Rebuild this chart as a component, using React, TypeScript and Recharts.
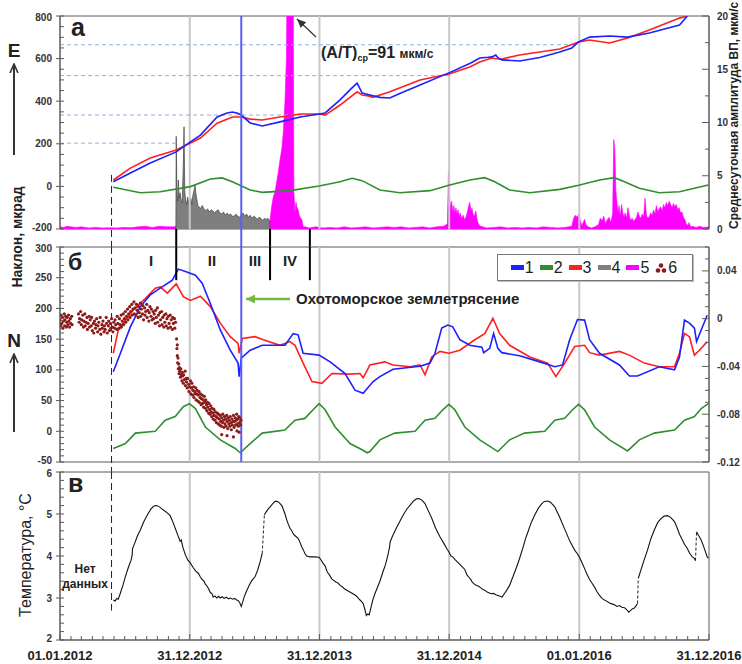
import React from 'react';
import {
  ComposedChart,
  Line,
  Area,
  Scatter,
  XAxis,
  YAxis,
  ReferenceLine,
  ReferenceArea,
} from 'recharts';

// x = days since 01.01.2012
type Pt = [number, number | null];

const FONT = 'Arial, "Liberation Sans", sans-serif';
const AXIS = '#5a5a5a';
const GRID = '#c8c8c8';
const BLUE = '#1f1fff';
const RED = '#ff1f1f';
const GREEN = '#2f8f2f';
const MAGENTA = '#ff00ff';
const GRAY = '#7f7f7f';
const DOT = '#8b1a1a';

const X_MAX = 1826;
const X_LABELS = [
  { d: 0, label: '01.01.2012' },
  { d: 365, label: '31.12.2012' },
  { d: 730, label: '31.12.2013' },
  { d: 1095, label: '31.12.2014' },
  { d: 1461, label: '01.01.2016' },
  { d: 1826, label: '31.12.2016' },
];
const YEAR_LINES = [365, 730, 1095, 1461];
const DATA_START = 145;
const QUAKE = 510;
const STAGE_BOUNDS = [327, 591, 703];

// panel a (E component)
const E_BLUE: Pt[] = [
  [150, 22], [198, 63], [254, 110], [327, 162], [367, 209], [395, 241], [442, 326], [470, 345], [485, 349],
  [500, 343], [510, 335], [535, 298], [569, 284], [619, 303], [676, 326], [729, 340], [746, 345], [788, 406],
  [820, 460], [836, 485], [850, 438], [872, 429], [900, 418], [928, 415], [956, 436], [1013, 476], [1094, 533],
  [1153, 577], [1181, 603], [1205, 606], [1215, 608], [1226, 617], [1232, 604], [1243, 594], [1293, 589],
  [1350, 605], [1406, 631], [1440, 650], [1459, 678], [1490, 701], [1546, 706], [1597, 701], [1658, 720],
  [1743, 758], [1765, 800],
];
const E_RED: Pt[] = [
  [150, 30], [198, 86], [254, 133], [327, 171], [367, 204], [395, 227], [442, 297], [485, 326], [510, 326],
  [535, 316], [569, 312], [619, 326], [676, 340], [729, 340], [746, 335], [788, 382], [836, 444], [850, 429],
  [867, 425], [881, 418], [928, 444], [1013, 500], [1094, 528], [1153, 561], [1181, 584], [1215, 603],
  [1232, 598], [1243, 598], [1293, 617], [1406, 645], [1459, 678], [1490, 687], [1546, 673], [1597, 697],
  [1658, 734], [1743, 790], [1765, 800],
];
const E_GREEN: Pt[] = [
  [150, -4], [226, -30], [282, -25], [367, -1], [423, 35], [456, 40], [485, 22], [535, -17], [569, -28],
  [647, -20], [729, 2], [788, 22], [822, 38], [850, 27], [900, -17], [956, -30], [1041, -20], [1094, 5],
  [1153, 30], [1195, 41], [1223, 22], [1265, -17], [1322, -30], [1406, -14], [1459, 5], [1518, 30],
  [1560, 41], [1588, 22], [1630, -9], [1686, -30], [1743, -25], [1824, 7],
];
const E_GRAY: Pt[] = [
  [326, 0], [327, 8.7], [329, 3.2], [331, 2.6], [333, 4.6], [335, 2.9], [338, 3.4], [341, 2.7], [344, 2.4],
  [347, 6.2], [349, 9.6], [351, 3.6], [353, 2.8], [356, 2.3], [359, 3.0], [362, 2.5], [365, 2.2], [368, 2.9],
  [371, 2.3], [374, 3.2], [377, 3.6], [380, 4.1], [382, 3.4], [385, 2.8], [388, 2.2], [391, 2.1], [395, 1.9],
  [400, 2.2], [405, 1.9], [410, 1.7], [415, 1.9], [420, 1.6], [425, 1.8], [430, 1.7], [435, 1.5], [440, 1.7],
  [445, 1.8], [450, 1.5], [455, 1.4], [460, 1.6], [465, 1.3], [470, 1.5], [475, 1.3], [480, 1.4], [485, 1.2],
  [490, 1.2], [495, 1.4], [500, 1.2], [505, 1.1], [510, 1.3], [515, 1.5], [520, 1.2], [525, 1.4], [530, 1.1],
  [535, 1.3], [540, 1.0], [545, 1.2], [550, 1.1], [555, 0.9], [560, 1.1], [565, 1.0], [570, 0.8], [575, 1.0],
  [580, 0.9], [585, 1.0], [590, 0.8], [591, 0],
];
const E_MAGENTA: Pt[] = [
  [0, 0.2], [10, 0.15], [20, 0.25], [30, 0.2], [45, 0.15], [60, 0.2], [80, 0.1], [100, 0.15], [120, 0.1],
  [140, 0.12], [160, 0.1], [180, 0.15], [200, 0.12], [220, 0.2], [240, 0.25], [260, 0.15], [280, 0.25],
  [300, 0.2], [320, 0.2], [340, 0.25], [360, 0.15], [400, 0.2], [440, 0.2], [480, 0.25], [520, 0.15],
  [560, 0.25], [585, 0.4], [591, 0.8], [595, 2.0], [600, 3.0], [605, 3.5], [610, 4.5], [614, 5.3], [619, 6.5],
  [624, 7.5], [628, 9.0], [633, 12], [637, 16], [639, 24], [642, 26], [647, 26], [652, 25], [656, 24],
  [658, 3.5], [661, 1.5], [664, 2.5], [667, 2.0], [670, 1.8], [674, 1.2], [678, 1.0], [681, 0.8], [684, 0.2],
  [690, 0.2], [700, 0.1], [720, 0.2], [740, 0.1], [760, 0.15], [780, 0.1], [800, 0.2], [820, 0.1],
  [840, 0.15], [860, 0.2], [880, 0.1], [900, 0.15], [920, 0.2], [940, 0.15], [960, 0.2], [980, 0.1],
  [1000, 0.15], [1020, 0.2], [1040, 0.1], [1060, 0.2], [1080, 0.25], [1090, 0.5], [1093, 5.4], [1096, 3.0],
  [1099, 2.0], [1102, 2.6], [1105, 1.6], [1108, 2.2], [1111, 1.5], [1114, 2.0], [1117, 1.4], [1120, 1.8],
  [1123, 1.2], [1126, 1.5], [1130, 1.0], [1134, 1.3], [1138, 0.9], [1142, 1.1], [1146, 1.6], [1150, 2.2],
  [1153, 2.5], [1156, 1.7], [1159, 2.0], [1162, 1.4], [1166, 1.2], [1170, 1.7], [1173, 1.0], [1176, 0.6],
  [1180, 0.3], [1200, 0.1], [1220, 0.15], [1240, 0.2], [1260, 0.1], [1280, 0.15], [1300, 0.1], [1320, 0.15],
  [1340, 0.1], [1360, 0.2], [1380, 0.15], [1400, 0.1], [1420, 0.15], [1440, 0.25], [1445, 1.0], [1450, 1.3],
  [1455, 1.1], [1460, 1.4], [1464, 0.8], [1468, 0.3], [1472, 0.6], [1476, 0.9], [1480, 0.4], [1486, 0.2],
  [1495, 0.1], [1505, 0.2], [1515, 0.4], [1520, 1.0], [1525, 0.8], [1530, 1.2], [1535, 0.5], [1540, 0.9],
  [1545, 1.1], [1550, 0.6], [1555, 1.5], [1558, 8.4], [1561, 7.5], [1564, 3.5], [1567, 2.5], [1570, 1.5],
  [1573, 2.2], [1576, 1.2], [1580, 2.3], [1584, 1.4], [1587, 1.1], [1590, 1.5], [1594, 1.0], [1598, 2.0],
  [1602, 1.2], [1606, 0.8], [1610, 1.0], [1614, 0.7], [1618, 0.9], [1622, 1.1], [1626, 1.6], [1630, 1.2],
  [1634, 1.0], [1638, 1.4], [1642, 1.1], [1646, 2.9], [1650, 1.3], [1654, 1.0], [1658, 1.2], [1662, 1.5],
  [1666, 1.3], [1670, 1.8], [1674, 1.4], [1678, 2.2], [1682, 1.6], [1686, 1.9], [1690, 2.1], [1694, 1.7],
  [1698, 2.3], [1702, 2.0], [1706, 2.5], [1710, 2.2], [1714, 2.6], [1718, 2.3], [1722, 2.0], [1726, 2.4],
  [1730, 2.1], [1734, 2.3], [1738, 1.8], [1742, 2.0], [1746, 1.5], [1750, 1.6], [1754, 1.1], [1758, 0.9],
  [1762, 0.5], [1766, 0.3], [1770, 0.6], [1774, 0.2], [1780, 0.25], [1790, 0.15], [1800, 0.25], [1810, 0.15],
  [1826, 0.2],
];
// dashed level marks on panel a
const E_LEVELS = [
  { y: 203, to: 327 },
  { y: 335, to: 729 },
  { y: 520, to: 1094 },
  { y: 665, to: 1459 },
];

// panel б (N component)
const N_BLUE: Pt[] = [
  [150, 97], [170, 127], [198, 170], [226, 203], [254, 222], [282, 233], [316, 246], [333, 264], [353, 260],
  [381, 254], [400, 241], [423, 208], [451, 165], [479, 132], [501, 111], [504, 89], [510, 119], [535, 132],
  [569, 140], [605, 140], [633, 140], [656, 159], [670, 157], [684, 127], [729, 124], [760, 113], [802, 94],
  [830, 67], [853, 62], [881, 81], [900, 89], [937, 101], [1013, 106], [1041, 111], [1055, 127], [1074, 168],
  [1091, 173], [1105, 170], [1125, 149], [1153, 140], [1187, 137], [1192, 128], [1209, 135], [1220, 159],
  [1232, 135], [1243, 128], [1293, 123], [1350, 113], [1392, 105], [1414, 108], [1434, 149], [1456, 182],
  [1476, 181], [1490, 149], [1518, 127], [1574, 108], [1602, 90], [1625, 90], [1686, 105], [1729, 100],
  [1743, 121], [1757, 181], [1771, 176], [1785, 168], [1791, 146], [1804, 165], [1821, 189],
];
const N_RED: Pt[] = [
  [150, 127], [164, 165], [184, 181], [206, 197], [240, 216], [268, 233], [282, 235], [302, 225], [327, 240],
  [347, 219], [367, 213], [395, 220], [423, 203], [451, 176], [479, 154], [501, 143], [504, 127], [513, 151],
  [549, 154], [572, 149], [619, 140], [647, 146], [661, 140], [684, 111], [709, 81], [737, 78], [765, 94],
  [816, 93], [844, 94], [853, 87], [872, 108], [914, 113], [937, 108], [985, 105], [1013, 108], [1027, 92],
  [1046, 121], [1069, 130], [1094, 127], [1125, 132], [1167, 149], [1195, 159], [1218, 184], [1237, 159],
  [1265, 140], [1322, 121], [1372, 111], [1395, 89], [1420, 111], [1448, 138], [1476, 140], [1490, 128],
  [1518, 124], [1574, 130], [1602, 124], [1644, 111], [1686, 105], [1729, 105], [1743, 127], [1757, 159],
  [1771, 154], [1785, 124], [1799, 132], [1821, 146],
];
const N_GREEN: Pt[] = [
  [150, -28], [184, -20], [212, -3], [268, 0], [296, 18], [324, 24], [347, 40], [364, 45], [381, 37],
  [409, 7], [451, -14], [493, -28], [507, -35], [535, -20], [569, -3], [633, 2], [661, 18], [689, 21],
  [712, 35], [729, 45], [746, 35], [774, 7], [816, -20], [850, -30], [864, -35], [872, -33], [900, -14],
  [942, -3], [999, 0], [1027, 18], [1055, 21], [1077, 35], [1094, 44], [1111, 35], [1139, 7], [1181, -14],
  [1232, -33], [1265, -14], [1307, -3], [1364, 0], [1392, 18], [1420, 21], [1442, 35], [1459, 44],
  [1476, 35], [1504, 7], [1546, -14], [1597, -32], [1630, -14], [1672, -3], [1729, 2], [1757, 18],
  [1785, 24], [1804, 37], [1824, 45],
];
// series 6, right axis
const N_DOTS: Pt[] = [
  [0, -0.001], [2, -0.006], [3, 0.003], [5, -0.004], [7, 0.001], [8, -0.008], [10, -0.002], [12, 0.004],
  [13, -0.006], [14, -0.001], [16, 0.002], [18, -0.007], [19, -0.003], [20, 0.001], [22, -0.005], [24, 0.003],
  [25, -0.002], [27, -0.007], [29, 0.0], [30, -0.004], [33, 0.002], [34, -0.005],
  [52, 0.004], [54, -0.003], [55, 0.0], [58, 0.006], [60, -0.005], [61, -0.001], [64, 0.003], [66, -0.007],
  [67, -0.002], [70, 0.004], [71, -0.006], [73, -0.003], [76, 0.001], [77, -0.009], [79, -0.004], [82, 0.002],
  [83, -0.007], [85, -0.001], [88, -0.006], [89, 0.001], [91, -0.01], [94, -0.004], [95, -0.012],
  [97, -0.002], [100, -0.008], [101, -0.005], [103, 0.0], [106, -0.011], [107, -0.006], [109, -0.003],
  [112, -0.009], [113, 0.001], [115, -0.013], [118, -0.005], [119, -0.008], [121, -0.002], [124, -0.011],
  [125, -0.006], [127, -0.009], [130, 0.001], [131, -0.004], [133, -0.012], [136, -0.006], [137, -0.002],
  [139, -0.01], [142, -0.004], [143, -0.008], [145, 0.0], [148, -0.007], [149, -0.011], [151, -0.003],
  [154, -0.008], [155, -0.001], [157, -0.005], [160, -0.009], [161, 0.002], [163, -0.004], [166, -0.008],
  [167, 0.0], [169, -0.005], [172, 0.003], [173, -0.007], [175, -0.002], [178, 0.004], [179, -0.005],
  [181, 0.0], [184, 0.006], [185, -0.003], [187, 0.002], [190, 0.008], [191, -0.001], [193, 0.004],
  [196, 0.01], [197, 0.001], [199, 0.006], [202, 0.012], [203, 0.003], [205, 0.008], [208, 0.014],
  [209, 0.004], [211, 0.009], [214, 0.003], [215, 0.012], [217, 0.007], [220, 0.001], [221, 0.01],
  [223, 0.005], [226, 0.013], [227, 0.002], [229, 0.008], [232, 0.004], [233, 0.011], [235, -0.001],
  [238, 0.009], [239, 0.003], [241, 0.006], [244, 0.012], [245, 0.001], [247, 0.007], [250, -0.002],
  [251, 0.005], [253, 0.01], [256, 0.002], [257, 0.008], [259, -0.001], [262, 0.006], [263, 0.0],
  [265, 0.004], [268, -0.004], [269, 0.007], [271, 0.001], [274, 0.009], [275, -0.003], [277, 0.003],
  [280, -0.006], [281, 0.005], [283, -0.001], [286, 0.006], [287, -0.005], [289, 0.001], [292, -0.007],
  [293, 0.003], [295, -0.003], [298, 0.004], [299, -0.006], [301, 0.0], [304, -0.008], [305, 0.002],
  [307, -0.004], [310, 0.003], [311, -0.007], [313, -0.001], [316, -0.009], [317, 0.001], [319, -0.004],
  [322, 0.0], [323, -0.008], [325, -0.003],
  [328, -0.017], [329, -0.025], [330, -0.031], [330, -0.022], [331, -0.037], [332, -0.033], [333, -0.042],
  [334, -0.038], [335, -0.046], [336, -0.041], [337, -0.044], [339, -0.049], [340, -0.042], [341, -0.047],
  [343, -0.052], [344, -0.045], [345, -0.048], [347, -0.054], [348, -0.047], [350, -0.051], [352, -0.044],
  [353, -0.056], [355, -0.05], [356, -0.053], [358, -0.058], [359, -0.05], [362, -0.055], [363, -0.061],
  [365, -0.057], [367, -0.052], [368, -0.063], [370, -0.058], [371, -0.054], [373, -0.064], [374, -0.06],
  [376, -0.057], [377, -0.066], [379, -0.061], [380, -0.063], [382, -0.058], [383, -0.068], [385, -0.063],
  [386, -0.06], [388, -0.069], [389, -0.064], [391, -0.061], [392, -0.07], [394, -0.066], [395, -0.063],
  [397, -0.072], [398, -0.067], [400, -0.064], [401, -0.071], [403, -0.068], [404, -0.074], [406, -0.065],
  [407, -0.07], [409, -0.075], [410, -0.068], [412, -0.072], [413, -0.077], [415, -0.07], [416, -0.074],
  [418, -0.079], [419, -0.071], [421, -0.076], [422, -0.08], [424, -0.073], [425, -0.078], [427, -0.082],
  [428, -0.075], [430, -0.079], [431, -0.084], [433, -0.076], [434, -0.081], [436, -0.085], [437, -0.078],
  [439, -0.082], [440, -0.087], [442, -0.079], [443, -0.083], [445, -0.088], [446, -0.08], [448, -0.084],
  [449, -0.089], [451, -0.081], [452, -0.086], [454, -0.09], [455, -0.083], [457, -0.087], [458, -0.08],
  [460, -0.085], [461, -0.091], [463, -0.082], [464, -0.088], [466, -0.084], [467, -0.09], [469, -0.081],
  [470, -0.086], [472, -0.092], [473, -0.083], [475, -0.088], [476, -0.085], [478, -0.09], [479, -0.082],
  [481, -0.087], [482, -0.093], [484, -0.084], [485, -0.089], [487, -0.086], [488, -0.081], [490, -0.091],
  [491, -0.086], [493, -0.083], [494, -0.089], [496, -0.085], [497, -0.08], [499, -0.088], [500, -0.084],
  [502, -0.09], [503, -0.082], [505, -0.087], [506, -0.083], [508, -0.089], [509, -0.085],
  [455, -0.097], [470, -0.098], [488, -0.099], [504, -0.095], [498, -0.094],
];

// panel в (temperature)
const TEMP: Pt[] = [
  [150, 2.95], [155, 2.93], [160, 2.99], [164, 2.97], [170, 3.12], [177, 3.3], [184, 3.51], [192, 3.72],
  [200, 3.9], [203, 4.02], [204, 4.17], [210, 4.3], [218, 4.48], [226, 4.62], [236, 4.82], [246, 4.98],
  [256, 5.12], [264, 5.19], [272, 5.2], [280, 5.17], [290, 5.1], [300, 5.04], [310, 4.96], [318, 4.8],
  [326, 4.62], [333, 4.46], [338, 4.35], [341, 4.38], [346, 4.2], [353, 4.02], [360, 3.9], [367, 3.83],
  [375, 3.72], [382, 3.64], [389, 3.59], [395, 3.5], [400, 3.44], [405, 3.4], [409, 3.33], [414, 3.28],
  [418, 3.22], [423, 3.13], [428, 3.1], [431, 3.02], [436, 3.05], [441, 3.0], [446, 3.04], [451, 3.0],
  [456, 3.03], [462, 2.99], [468, 3.02], [474, 2.98], [479, 3.0], [486, 2.97], [492, 2.99], [497, 2.95],
  [501, 2.94], [506, 2.88], [510, 2.8], [514, 2.9], [518, 3.02], [524, 3.15], [532, 3.3], [540, 3.42],
  [549, 3.51], [556, 3.66], [563, 3.86], [569, 4.06], [572, null], [575, 4.98], [580, 5.05], [586, 5.12],
  [591, 5.17], [598, 5.24], [605, 5.3], [611, 5.3], [618, 5.26], [624, 5.2], [628, 5.12], [633, 5.0],
  [638, 4.86], [643, 4.74], [647, 4.66], [652, 4.6], [657, 4.52], [663, 4.47], [670, 4.42], [675, 4.33],
  [680, 4.22], [685, 4.14], [689, 4.06], [694, 4.0], [703, 3.98], [715, 3.98], [729, 3.97], [735, 3.9],
  [740, 3.83], [746, 3.76], [752, 3.62], [758, 3.55], [765, 3.45], [770, 3.42], [776, 3.38], [782, 3.36],
  [788, 3.3], [794, 3.27], [800, 3.22], [806, 3.19], [812, 3.16], [818, 3.13], [824, 3.1], [830, 3.07],
  [836, 3.03], [842, 2.97], [848, 2.92], [853, 2.87], [858, 2.72], [862, 2.58], [866, 2.62], [870, 2.6],
  [874, 2.74], [880, 2.95], [886, 3.1], [893, 3.25], [900, 3.4], [909, 3.63], [916, 3.8], [922, 4.0],
  [927, 4.2], [929, 4.34], [936, 4.48], [946, 4.66], [956, 4.82], [966, 4.98], [976, 5.12], [985, 5.21],
  [995, 5.31], [1003, 5.36], [1010, 5.37], [1018, 5.33], [1027, 5.25], [1036, 5.08], [1046, 4.9],
  [1057, 4.66], [1069, 4.46], [1080, 4.3], [1090, 4.15], [1094, 4.1], [1100, 4.0], [1105, 3.98],
  [1111, 3.92], [1118, 3.86], [1125, 3.8], [1132, 3.74], [1139, 3.68], [1145, 3.55], [1150, 3.5],
  [1155, 3.45], [1160, 3.38], [1166, 3.33], [1172, 3.3], [1178, 3.28], [1184, 3.24], [1190, 3.2],
  [1196, 3.18], [1202, 3.14], [1208, 3.12], [1214, 3.1], [1220, 3.11], [1226, 3.08], [1232, 3.06],
  [1238, 3.04], [1244, 3.02], [1250, 3.1], [1258, 3.2], [1265, 3.3], [1274, 3.5], [1284, 3.72], [1293, 3.94],
  [1304, 4.24], [1310, 4.42], [1316, 4.56], [1326, 4.8], [1336, 4.98], [1346, 5.14], [1355, 5.24],
  [1363, 5.3], [1372, 5.31], [1380, 5.28], [1392, 5.17], [1405, 4.94], [1420, 4.64], [1434, 4.36],
  [1448, 4.14], [1455, 4.06], [1461, 3.98], [1468, 3.85], [1476, 3.7], [1483, 3.56], [1490, 3.44],
  [1497, 3.35], [1504, 3.26], [1511, 3.15], [1518, 3.06], [1525, 2.99], [1532, 2.95], [1539, 2.92],
  [1546, 2.88], [1553, 2.86], [1560, 2.84], [1567, 2.8], [1574, 2.82], [1581, 2.78], [1588, 2.77],
  [1595, 2.72], [1600, 2.66], [1605, 2.7], [1610, 2.74], [1616, 2.76], [1621, 2.82], [1625, 2.87],
  [1626, null], [1627, 3.47], [1635, 3.68], [1644, 3.92], [1653, 4.14], [1662, 4.4], [1672, 4.62],
  [1682, 4.8], [1692, 4.9], [1700, 4.95], [1709, 4.96], [1718, 4.92], [1729, 4.82], [1736, 4.68],
  [1743, 4.52], [1750, 4.4], [1757, 4.28], [1765, 4.18], [1772, 4.06], [1779, 3.98], [1784, 3.95],
  [1788, 3.89], [1789, null], [1791, 4.58], [1796, 4.5], [1804, 4.38], [1812, 4.2], [1821, 3.98],
  [1825, 3.95],
];
const TEMP_GAPS: Pt[] = [
  [569, 4.06], [575, 4.98], [576, null], [1625, 2.87], [1627, 3.47], [1628, null], [1788, 3.89], [1791, 4.58],
];

const A_LEFT = [-200, 0, 200, 400, 600, 800];
const A_RIGHT = [0, 5, 10, 15, 20];
const B_LEFT = [-50, 0, 50, 100, 150, 200, 250, 300];
const B_RIGHT = [-0.12, -0.08, -0.04, 0, 0.04];
const C_LEFT = [2, 3, 4, 5, 6];

const pts = (a: Pt[]) => a.map(([d, v]) => ({ d, v }));

const steps = (lo: number, hi: number, st: number) => {
  const r: number[] = [];
  for (let v = lo; v <= hi + 1e-9; v += st) r.push(+v.toFixed(4));
  return r;
};

const MONTHS: number[] = [];
for (let y = 2012; y <= 2016; y++) {
  for (let m = 1; m < 12; m++) MONTHS.push(Math.round((Date.UTC(y, m, 1) - Date.UTC(2012, 0, 1)) / 864e5));
}
const X_TICKS = [...X_LABELS.map((l) => l.d), ...MONTHS].sort((a, b) => a - b);

const isMajor = (list: number[], v: number) => list.some((m) => Math.abs(m - v) < 1e-6);

const fmtB = (v: number) => (v === 0 ? '0' : String(v));

// lo/hi: the panel's end values, whose labels are nudged inward a little so that neighbouring panels don't collide
function leftTick(majors: number[]) {
  const lo = majors[0];
  const hi = majors[majors.length - 1];
  return (p: any) => {
    const v = p.payload.value;
    const major = isMajor(majors, v);
    const nudge = v === lo ? -1.5 : v === hi ? 1.5 : 0;
    return (
      <g>
        <line x1={major ? p.x - 4 : p.x} x2={p.x + 4} y1={p.y} y2={p.y} stroke={AXIS} />
        {major && (
          <text x={p.x - 8} y={p.y + 3.5 + nudge} textAnchor="end" fontSize={10} fontWeight="bold" fontFamily={FONT} fill="#333">
            {v}
          </text>
        )}
      </g>
    );
  };
}

function rightTick(majors: number[]) {
  return (p: any) => {
    const v = p.payload.value;
    const major = isMajor(majors, v);
    return (
      <g>
        <line x1={p.x - (major ? 7 : 4)} x2={p.x} y1={p.y} y2={p.y} stroke={AXIS} />
        {major && (
          <text x={p.x + 8} y={p.y + 3.5} textAnchor="start" fontSize={10} fontWeight="bold" fontFamily={FONT} fill="#333">
            {fmtB(v)}
          </text>
        )}
      </g>
    );
  };
}

function bottomTick(withLabels: boolean) {
  return (p: any) => {
    const v = p.payload.value;
    const lab = X_LABELS.find((l) => l.d === v);
    return (
      <g>
        <line x1={p.x} x2={p.x} y1={p.y} y2={p.y - (lab ? 6 : 4)} stroke={AXIS} />
        {withLabels && lab && (
          <text x={p.x} y={p.y + 20} textAnchor="middle" fontSize={13} fontWeight="bold" fontFamily={FONT} fill="#222">
            {lab.label}
          </text>
        )}
      </g>
    );
  };
}

const dotShape = (p: any) => <circle cx={p.cx} cy={p.cy} r={1.6} fill={DOT} />;

function xAxis(withLabels: boolean) {
  return (
    <XAxis
      dataKey="d"
      type="number"
      domain={[0, X_MAX]}
      ticks={X_TICKS}
      interval={0}
      allowDataOverflow
      tickSize={0}
      tickMargin={0}
      tickLine={false}
      axisLine={{ stroke: AXIS }}
      height={withLabels ? 24 : 0}
      tick={bottomTick(withLabels)}
    />
  );
}

function yearLines(id: string) {
  return YEAR_LINES.map((d) => (
    <ReferenceLine key={d} yAxisId={id} x={d} stroke={GRID} strokeWidth={2} />
  ));
}

function PanelA() {
  return (
    <ComposedChart width={742} height={247} margin={{ top: 16, right: 0, bottom: 18, left: 0 }}>
      {xAxis(false)}
      <YAxis yAxisId="L" type="number" domain={[-200, 800]} ticks={steps(-200, 800, 50)} interval={0}
        allowDataOverflow width={60} tickSize={0} tickMargin={0} tickLine={false} axisLine={{ stroke: AXIS }}
        tick={leftTick(A_LEFT)} />
      <YAxis yAxisId="R" orientation="right" type="number" domain={[0, 20]} ticks={steps(0, 20, 2.5)} interval={0}
        allowDataOverflow width={33} tickSize={0} tickMargin={0} tickLine={false} axisLine={{ stroke: AXIS }}
        tick={rightTick(A_RIGHT)} />
      <ReferenceArea yAxisId="L" x1={0} x2={X_MAX} y1={-200} y2={800} fill="none" stroke={AXIS} />
      {yearLines('L')}
      {E_LEVELS.map((l) => (
        <ReferenceLine key={l.y} yAxisId="L" segment={[{ x: 0, y: l.y }, { x: l.to, y: l.y }]}
          stroke="#8db3dd" strokeDasharray="4 3" />
      ))}
      <Area yAxisId="R" data={pts(E_MAGENTA)} dataKey="v" type="linear" stroke={MAGENTA} strokeWidth={0.6}
        fill={MAGENTA} fillOpacity={1} isAnimationActive={false} />
      <Area yAxisId="R" data={pts(E_GRAY)} dataKey="v" type="linear" stroke="#444" strokeWidth={0.7}
        fill={GRAY} fillOpacity={1} isAnimationActive={false} />
      <Line yAxisId="L" data={pts(E_GREEN)} dataKey="v" type="linear" stroke={GREEN} strokeWidth={1.6} dot={false} isAnimationActive={false} />
      <Line yAxisId="L" data={pts(E_RED)} dataKey="v" type="linear" stroke={RED} strokeWidth={1.6} dot={false} isAnimationActive={false} />
      <Line yAxisId="L" data={pts(E_BLUE)} dataKey="v" type="linear" stroke={BLUE} strokeWidth={1.6} dot={false} isAnimationActive={false} />
      <ReferenceLine yAxisId="L" segment={[{ x: DATA_START, y: 54 }, { x: DATA_START, y: -285 }]}
        stroke="#222" strokeDasharray="7 4" ifOverflow="visible" />
      <ReferenceLine yAxisId="L" segment={[{ x: QUAKE, y: 800 }, { x: QUAKE, y: -285 }]}
        stroke="#5b5bff" strokeWidth={2} ifOverflow="visible" />
      {STAGE_BOUNDS.map((d) => (
        <ReferenceLine key={d} yAxisId="L" segment={[{ x: d, y: -200 }, { x: d, y: -285 }]}
          stroke="#000" strokeWidth={2} ifOverflow="visible" />
      ))}
    </ComposedChart>
  );
}

function PanelB() {
  return (
    <ComposedChart width={742} height={236} margin={{ top: 11, right: 0, bottom: 10, left: 0 }}>
      {xAxis(false)}
      <YAxis yAxisId="L" type="number" domain={[-50, 300]} ticks={steps(-50, 300, 10)} interval={0}
        allowDataOverflow width={60} tickSize={0} tickMargin={0} tickLine={false} axisLine={{ stroke: AXIS }}
        tick={leftTick(B_LEFT)} />
      <YAxis yAxisId="R" orientation="right" type="number" domain={[-0.12, 0.06]} ticks={steps(-0.12, 0.06, 0.01)}
        interval={0} allowDataOverflow width={33} tickSize={0} tickMargin={0} tickLine={false}
        axisLine={{ stroke: AXIS }} tick={rightTick(B_RIGHT)} />
      <ReferenceArea yAxisId="L" x1={0} x2={X_MAX} y1={-50} y2={300} fill="none" stroke={AXIS} />
      {yearLines('L')}
      <Scatter yAxisId="R" data={pts(N_DOTS)} dataKey="v" fill={DOT} shape={dotShape} isAnimationActive={false} />
      <Line yAxisId="L" data={pts(N_GREEN)} dataKey="v" type="linear" stroke={GREEN} strokeWidth={1.6} dot={false} isAnimationActive={false} />
      <Line yAxisId="L" data={pts(N_RED)} dataKey="v" type="linear" stroke={RED} strokeWidth={1.6} dot={false} isAnimationActive={false} />
      <Line yAxisId="L" data={pts(N_BLUE)} dataKey="v" type="linear" stroke={BLUE} strokeWidth={1.6} dot={false} isAnimationActive={false} />
      <ReferenceLine yAxisId="L" segment={[{ x: DATA_START, y: 300 }, { x: DATA_START, y: -67 }]}
        stroke="#222" strokeDasharray="7 4" ifOverflow="visible" />
      <ReferenceLine yAxisId="L" segment={[{ x: QUAKE, y: 300 }, { x: QUAKE, y: -50 }]}
        stroke="#5b5bff" strokeWidth={2} ifOverflow="visible" />
      {STAGE_BOUNDS.map((d) => (
        <ReferenceLine key={d} yAxisId="L" segment={[{ x: d, y: 300 }, { x: d, y: 246 }]}
          stroke="#000" strokeWidth={2} ifOverflow="visible" />
      ))}
    </ComposedChart>
  );
}

function PanelC() {
  return (
    <ComposedChart width={742} height={202} margin={{ top: 10, right: 33, bottom: 0, left: 0 }}>
      {xAxis(true)}
      <YAxis yAxisId="L" type="number" domain={[2, 6]} ticks={steps(2, 6, 0.2)} interval={0}
        allowDataOverflow width={60} tickSize={0} tickMargin={0} tickLine={false} axisLine={{ stroke: AXIS }}
        tick={leftTick(C_LEFT)} />
      <ReferenceArea yAxisId="L" x1={0} x2={X_MAX} y1={2} y2={6} fill="none" stroke={AXIS} />
      {yearLines('L')}
      <Line yAxisId="L" data={pts(TEMP_GAPS)} dataKey="v" type="linear" stroke="#222" strokeWidth={1}
        strokeDasharray="3 2" dot={false} isAnimationActive={false} />
      <Line yAxisId="L" data={pts(TEMP)} dataKey="v" type="linear" stroke="#111" strokeWidth={1.1} dot={false} isAnimationActive={false} />
      <ReferenceLine yAxisId="L" segment={[{ x: DATA_START, y: 6 }, { x: DATA_START, y: 2.7 }]}
        stroke="#222" strokeDasharray="7 4" />
    </ComposedChart>
  );
}

const LEGEND = [
  { n: '1', c: BLUE },
  { n: '2', c: GREEN },
  { n: '3', c: RED },
  { n: '4', c: GRAY },
  { n: '5', c: MAGENTA },
  { n: '6', c: DOT, dots: true },
];

function Overlay() {
  const bold = { fontFamily: FONT, fontWeight: 'bold' as const, fill: '#222' };
  return (
    <svg width={742} height={664} style={{ position: 'absolute', left: 0, top: 0, pointerEvents: 'none' }}>
      <defs>
        <marker id="ah" markerUnits="userSpaceOnUse" markerWidth="10" markerHeight="10" refX="9" refY="5" orient="auto">
          <path d="M0,1 L9,5 L0,9" fill="none" stroke="#333" strokeWidth={1.6} />
        </marker>
        <marker id="ahs" markerUnits="userSpaceOnUse" markerWidth="10" markerHeight="10" refX="9" refY="5" orient="auto">
          <path d="M0,1 L9,5 L0,9 z" fill="#333" />
        </marker>
        <marker id="ahg" markerUnits="userSpaceOnUse" markerWidth="10" markerHeight="10" refX="9" refY="5" orient="auto">
          <path d="M0,0.5 L9,5 L0,9.5 z" fill="#77b843" />
        </marker>
      </defs>
      <text x={71} y={36} fontSize={25} {...bold}>а</text>
      <text x={68} y={270} fontSize={23} {...bold}>б</text>
      <text x={68} y={492} fontSize={25} {...bold}>в</text>

      <text x={14} y={57} fontSize={19} textAnchor="middle" {...bold}>E</text>
      <line x1={14} y1={155} x2={14} y2={64} stroke="#333" strokeWidth={2} markerEnd="url(#ah)" />
      <text x={14} y={347} fontSize={19} textAnchor="middle" {...bold}>N</text>
      <line x1={14} y1={432} x2={14} y2={354} stroke="#333" strokeWidth={2} markerEnd="url(#ah)" />
      <text transform="translate(22,237) rotate(-90)" fontSize={14} textAnchor="middle" {...bold}>Наклон,  мкрад</text>
      <text transform="translate(31,555) rotate(-90)" fontSize={16} textAnchor="middle" fontFamily={FONT} fill="#222">
        Температура, °C
      </text>
      <text transform="translate(738,229) rotate(-90)" fontSize={12} textAnchor="start" {...bold}>
        Среднесуточная амплитуда ВП, мкм/с
      </text>

      <line x1={316} y1={37} x2={297} y2={19} stroke="#333" strokeWidth={1.2} markerEnd="url(#ahs)" />
      <text x={321} y={58} fontSize={16} {...bold}>
        (A/T)<tspan fontSize={9} dy={3}>ср</tspan>
        <tspan dy={-3}>=91 </tspan>
        <tspan fontSize={12}>мкм/с</tspan>
      </text>

      <text x={151} y={266} fontSize={15} textAnchor="middle" {...bold}>I</text>
      <text x={212} y={266} fontSize={15} textAnchor="middle" {...bold}>II</text>
      <text x={255} y={266} fontSize={15} textAnchor="middle" {...bold}>III</text>
      <text x={290} y={266} fontSize={15} textAnchor="middle" {...bold}>IV</text>

      <line x1={290} y1={299} x2={246} y2={299} stroke="#77b843" strokeWidth={2.5} markerEnd="url(#ahg)" />
      <text x={296} y={304} fontSize={15} {...bold}>Охотоморское землетрясение</text>

      <text x={85} y={573} fontSize={12} textAnchor="middle" {...bold}>Нет</text>
      <text x={85} y={588} fontSize={12} textAnchor="middle" {...bold}>данных</text>
    </svg>
  );
}

function LegendBox() {
  return (
    <div
      style={{
        position: 'absolute', left: 497, top: 254, width: 194, height: 25, border: '1px solid #777',
        background: '#fff', display: 'flex', alignItems: 'center', justifyContent: 'center', gap: 4,
        fontFamily: FONT, fontSize: 16, color: '#222', boxShadow: '1px 1px 0 #bbb',
      }}
    >
      {LEGEND.map((l) => (
        <span key={l.n} style={{ display: 'flex', alignItems: 'center', marginRight: 2 }}>
          {l.dots ? (
            <svg width={12} height={12}>
              <circle cx={6} cy={3.5} r={2.3} fill={l.c} />
              <circle cx={3} cy={8.5} r={2.3} fill={l.c} />
              <circle cx={9} cy={8.5} r={2.3} fill={l.c} />
            </svg>
          ) : (
            <span style={{ display: 'inline-block', width: 13, height: 5, background: l.c }} />
          )}
          <span style={{ marginLeft: 1 }}>{l.n}</span>
        </span>
      ))}
    </div>
  );
}

export default function App() {
  return (
    <div style={{ position: 'absolute', left: 0, top: 0, width: 742, height: 664, background: '#fff', overflow: 'hidden' }}>
      <div style={{ position: 'absolute', left: 0, top: 0 }}>
        <PanelA />
      </div>
      <div style={{ position: 'absolute', left: 0, top: 236 }}>
        <PanelB />
      </div>
      <div style={{ position: 'absolute', left: 0, top: 462 }}>
        <PanelC />
      </div>
      <LegendBox />
      <Overlay />
    </div>
  );
}
